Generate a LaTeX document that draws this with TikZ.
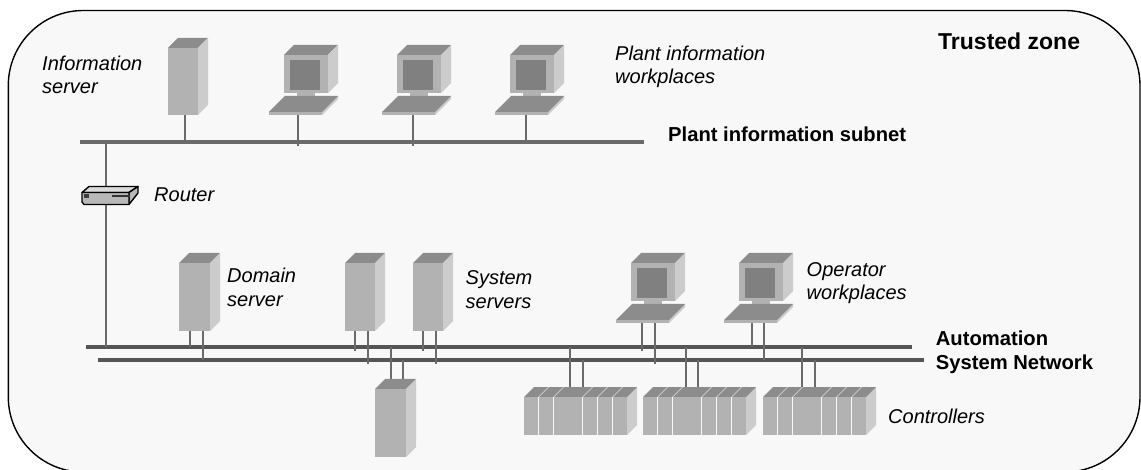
\documentclass[tikz,border=0pt]{standalone}
\usepackage{fontspec}
\setmainfont{Liberation Sans}
\definecolor{bgz}{HTML}{F8F8F8}
\definecolor{cfront}{HTML}{B2B2B2}
\definecolor{ctop}{HTML}{8C8C8C}
\definecolor{cside}{HTML}{CCCCCC}
\definecolor{cscreen}{HTML}{808080}
\definecolor{cbus}{HTML}{555555}
\definecolor{cbustop}{HTML}{6A6A6A}
\definecolor{cstem}{HTML}{6A6A6A}
\tikzset{
  lab/.style={anchor=base west,inner sep=0pt,font=\fontsize{20}{24}\selectfont\itshape},
  blab/.style={anchor=base west,inner sep=0pt,font=\fontsize{20.2}{24}\selectfont\bfseries},
  busline/.style={fill=cbus,draw=none,inner sep=0pt,minimum height=4pt,anchor=west},
  stemline/.style={draw=cstem,line width=2pt},
  hit/.style={anchor=north west,inner sep=0pt,draw=none},
}
% name, x, y of front top-left, front width, front height
\newcommand{\tower}[5]{%
  \fill[ctop] (#2,#3) -- ++(10,-10) -- ++(#4,0) -- ++(-10,10) -- cycle;
  \fill[cside] (#2+#4,#3) -- ++(10,-10) -- ++(0,#5) -- ++(-10,10) -- cycle;
  \node[hit,fill=cfront,minimum width=#4pt,minimum height=#5pt] (#1) at (#2,#3) {};
}
% name, x, y of monitor front top-left
\newcommand{\station}[3]{%
  \fill[ctop] (#2,#3) -- ++(10,-10) -- ++(44,0) -- ++(-10,10) -- cycle;
  \fill[cside] (#2+44,#3) -- ++(10,-10) -- ++(0,38) -- ++(-10,10) -- cycle;
  \fill[cfront] (#2,#3) rectangle ++(44,38);
  \fill[cscreen] (#2+6,#3+5) rectangle ++(30,30);
  \fill[cfront] (#2+13,#3+38) rectangle ++(18,3);
  \fill[cside] (#2+38,#3+57) -- (#2+38,#3+60) -- (#2+54,#3+44) -- (#2+54,#3+41) -- cycle;
  \fill[ctop] (#2-15,#3+57) -- ++(53,0) -- ++(16,-16) -- ++(-53,0) -- cycle;
  \node[hit,fill=cfront,minimum width=53pt,minimum height=3pt] (#1) at (#2-15,#3+57) {};
}
% name, x, y of front top-left
\newcommand{\rack}[3]{%
  \fill[cside] (#2+103,#3) -- ++(10,-10) -- ++(0,38) -- ++(-10,10) -- cycle;
  \foreach \sx/\sw in {0/14,15/14,30/28,59/14,74/14,89/14}{
    \fill[ctop] (#2+\sx,#3) -- ++(10,-10) -- ++(\sw,0) -- ++(-10,10) -- cycle;
    \fill[cfront] (#2+\sx,#3) rectangle ++(\sw,38);
  }
  \node[hit,minimum width=103pt,minimum height=38pt] (#1) at (#2,#3) {};
}
% from node, x, to node
\newcommand{\stem}[3]{\draw[stemline] (#2,0 |- #1.south) -- (#2,0 |- #3.center);}
\newcommand{\stemover}[3]{\draw[stemline] (#2,0 |- #1.south) -- (#2,0 |- #3.south) -- ++(0,1.5);}
\newcommand{\stemup}[3]{\draw[stemline] (#2,0 |- #1.north) ++(0,-10) -- (#2,0 |- #3.center);}
\begin{document}
\begin{tikzpicture}[x=1pt,y=-1pt]
\useasboundingbox (0,0) rectangle (1141,470);
\fill[white] (0,0) rectangle (1141,470);
\draw[fill=bgz,line width=1.4pt,rounded corners=75pt] (8.3,10.5) rectangle (1140,472);

% buses
\node[busline,fill=cbustop,minimum width=564pt] (binfo) at (80,142) {};
\node[busline,minimum width=826pt] (bauto) at (86,347) {};
\node[busline,minimum width=826pt] (bsys) at (98,360) {};

% devices, top
\tower{infosrv}{168}{48}{30}{67}
\station{pca}{284}{55}
\station{pcb}{397}{55}
\station{pcc}{510}{55}

% devices, lower
\tower{domsrv}{179}{263}{31}{68}
\tower{syssrva}{345}{263}{30}{68}
\tower{syssrvb}{413}{263}{30}{68}
\tower{botsrv}{375}{389}{31}{68}
\station{opa}{631}{263}
\station{opb}{739}{263}
\rack{ctla}{524}{397}
\rack{ctlb}{643}{397}
\rack{ctlc}{763}{397}

% connectors, top
\stem{infosrv}{184.5}{binfo}
\stemover{pca}{298}{binfo}
\stemover{pcb}{412.5}{binfo}
\stem{pcc}{526}{binfo}

% router
\node[inner sep=0pt,minimum width=48pt,minimum height=12pt,anchor=north west] (router) at (81.5,192.5) {};
\draw[stemline] (105.5,0 |- binfo.center) -- (105.5,0 |- router.north);
\draw[stemline] (105.5,0 |- router.south) -- (105.5,0 |- bauto.center);
\draw[line width=1.4pt,fill=white!85!black,line join=round] (82,192.5) -- (89,186.5) -- (138,186.5) -- (129,192.5) -- cycle;
\draw[line width=1.4pt,fill=white!72!black,line join=round] (138,186.5) -- (138,193) -- (129,204.5) -- (129,192.5) -- cycle;
\draw[line width=1.4pt,fill=white!72!black,line join=round] (82,192.5) -- (129,192.5) -- (129,204.5) -- (84,204.5) -- (82,202) -- cycle;
\fill[black!75] (84,194.5) rectangle (89,198);
\fill[black!80] (112,195) rectangle (130,197.5);

% connectors, lower
\stem{domsrv}{190}{bauto}
\stem{domsrv}{202.5}{bsys}
\stemover{syssrva}{354.5}{bauto}
\stemover{syssrva}{367.5}{bsys}
\stemover{syssrvb}{423}{bauto}
\stemover{syssrvb}{436}{bsys}
\stemover{opa}{642}{bauto}
\stemover{opa}{654.5}{bsys}
\stem{opb}{751.5}{bauto}
\stem{opb}{763.5}{bsys}
\stemup{botsrv}{391}{bauto}
\stemup{botsrv}{403}{bsys}
\stemup{ctla}{570}{bauto}
\stemup{ctla}{582.7}{bsys}
\stemup{ctlb}{685.7}{bauto}
\stemup{ctlb}{698}{bsys}
\stemup{ctlc}{802}{bauto}
\stemup{ctlc}{815}{bsys}

% labels
\node[lab] (t1) at (42,70.7) {Information};
\node[lab] (t2) at (42,94) {server};
\node[lab] (t3) at (615,60.7) {Plant information};
\node[lab] (t4) at (615,83.5) {workplaces};
\node[blab,font=\fontsize{23}{27}\selectfont\bfseries] (t5) at (938,50) {Trusted zone};
\node[blab] (t6) at (668,141.5) {Plant information subnet};
\node[lab] (t7) at (154,201.7) {Router};
\node[lab] (t8) at (227,282.7) {Domain};
\node[lab] (t9) at (227,307) {server};
\node[lab] (t10) at (465.5,285) {System};
\node[lab] (t11) at (465.5,309) {servers};
\node[lab] (t12) at (806.5,276.7) {Operator};
\node[lab] (t13) at (806.5,300) {workplaces};
\node[blab] (t14) at (935.7,346) {Automation};
\node[blab] (t15) at (935.7,370) {System Network};
\node[lab] (t16) at (888,423) {Controllers};
\end{tikzpicture}
\end{document}
